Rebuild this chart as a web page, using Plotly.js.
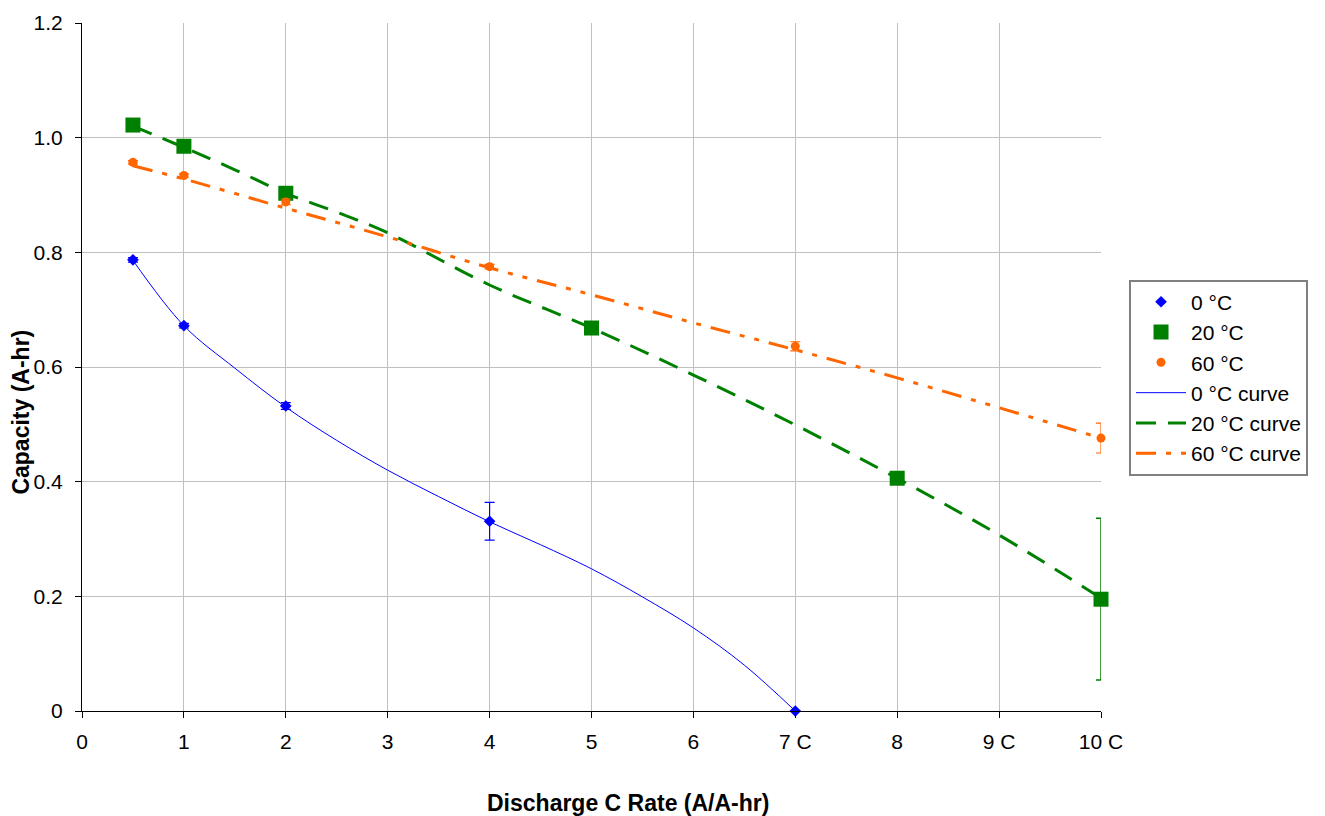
<!DOCTYPE html>
<html>
<head>
<meta charset="utf-8">
<script src="https://cdn.plot.ly/plotly-3.0.1.min.js"></script>
<style>html,body{margin:0;padding:0;background:#fff;}#chart{width:1325px;height:816px;}</style>
</head>
<body>
<div id="chart"></div>
<script>
// Measured points
const x0 = [0.5, 1, 2, 4, 7];
const y0 = [0.787, 0.672, 0.532, 0.331, 0.0];
const e0 = [0.004, 0.004, 0.006, 0.033, 0.0];

const x20 = [0.5, 1, 2, 5, 8, 10];
const y20 = [1.022, 0.985, 0.903, 0.668, 0.406, 0.195];
const e20 = [0.0, 0.0, 0.0, 0.0, 0.0, 0.141];

const x60 = [0.5, 1, 2, 4, 7, 10];
const y60 = [0.957, 0.934, 0.888, 0.775, 0.636, 0.476];
const e60 = [0.003, 0.003, 0.005, 0.004, 0.008, 0.026];

// Fitted curves
const xc0 = [0.5, 1, 1.5, 2, 2.5, 3, 3.5, 4, 4.5, 5, 5.5, 6, 6.5, 7];
const yc0 = [0.786, 0.672, 0.598, 0.530, 0.472, 0.420, 0.374, 0.330, 0.290, 0.248, 0.199, 0.145, 0.080, 0.0];

const xc20 = [0.5, 1, 1.5, 2, 2.5, 3, 4, 5, 6, 7, 8, 9, 10];
const yc20 = [1.020, 0.983, 0.944, 0.903, 0.870, 0.834, 0.743, 0.668, 0.586, 0.499, 0.406, 0.307, 0.197];

const xc60 = [0.5, 1, 2, 3, 4, 5, 6, 7, 8, 9, 10];
const yc60 = [0.951, 0.928, 0.877, 0.827, 0.773, 0.726, 0.677, 0.630, 0.581, 0.529, 0.476];

const xTickVals = [0, 1, 2, 3, 4, 5, 6, 7, 8, 9, 10];
const xTickText = ['0', '1', '2', '3', '4', '5', '6', '7 C', '8', '9 C', '10 C'];
const yTickVals = [0, 0.2, 0.4, 0.6, 0.8, 1.0, 1.2];
const yTickText = ['0', '0.2', '0.4', '0.6', '0.8', '1.0', '1.2'];

const xTitle = 'Discharge C Rate (A/A-hr)';
const yTitle = 'Capacity (A-hr)';

const BLUE = '#0000ff', GREEN = '#008000', ORANGE = '#ff6600';

const traces = [
  {x: x0, y: y0, name: '0 °C', mode: 'markers', type: 'scatter', cliponaxis: false,
   marker: {symbol: 'diamond', size: 9, color: BLUE},
   error_y: {type: 'data', array: e0, visible: true, color: BLUE, thickness: 1.2, width: 5}},
  {x: x20, y: y20, name: '20 °C', mode: 'markers', type: 'scatter', cliponaxis: false,
   marker: {symbol: 'square', size: 15, color: GREEN},
   error_y: {type: 'data', array: e20, visible: true, color: GREEN, thickness: 1.5, width: 5}},
  {x: x60, y: y60, name: '60 °C', mode: 'markers', type: 'scatter', cliponaxis: false,
   marker: {symbol: 'circle', size: 9, color: ORANGE},
   error_y: {type: 'data', array: e60, visible: true, color: ORANGE, thickness: 1.2, width: 5}},
  {x: xc0, y: yc0, name: '0 °C curve', mode: 'lines', type: 'scatter', cliponaxis: false,
   line: {color: BLUE, width: 1, shape: 'spline'}},
  {x: xc20, y: yc20, name: '20 °C curve', mode: 'lines', type: 'scatter', cliponaxis: false,
   line: {color: GREEN, width: 3, dash: '20px,12px', shape: 'spline'}},
  {x: xc60, y: yc60, name: '60 °C curve', mode: 'lines', type: 'scatter', cliponaxis: false,
   line: {color: ORANGE, width: 3, dash: '20px,10px,5px,10px,5px,10px', shape: 'spline'}}
];

const layout = {
  width: 1325, height: 816,
  paper_bgcolor: '#ffffff', plot_bgcolor: '#ffffff',
  margin: {l: 82, r: 224, t: 23, b: 105},
  font: {family: 'Liberation Sans, Arial, sans-serif', size: 21, color: '#000'},
  showlegend: true,
  legend: {x: 1.0275, y: 0.627, xanchor: 'left', yanchor: 'top',
           bordercolor: '#808080', borderwidth: 2, bgcolor: '#fff',
           font: {size: 21}, tracegroupgap: 0, itemwidth: 50},
  xaxis: {range: [0, 10], tickvals: xTickVals, ticktext: xTickText,
          showgrid: true, gridcolor: '#c0c0c0', gridwidth: 1,
          showline: true, linecolor: '#000', linewidth: 1,
          ticks: 'outside', ticklen: 6, tickcolor: '#000', zeroline: false,
          ticklabelstandoff: 6},
  yaxis: {range: [0, 1.2], tickvals: yTickVals, ticktext: yTickText,
          showgrid: true, gridcolor: '#c0c0c0', gridwidth: 1,
          showline: true, linecolor: '#000', linewidth: 1,
          ticks: 'outside', ticklen: 6, tickcolor: '#000', zeroline: false,
          ticklabelstandoff: 8},
  annotations: [
    {text: '<b>' + xTitle + '</b>', xref: 'paper', yref: 'paper', x: 0.536, y: -0.134,
     xanchor: 'center', yanchor: 'middle', showarrow: false, font: {size: 23}},
    {text: '<b>' + yTitle + '</b>', xref: 'paper', yref: 'paper', x: -0.06, y: 0.435,
     xanchor: 'center', yanchor: 'middle', showarrow: false, textangle: -90, font: {size: 23}}
  ]
};

Plotly.newPlot('chart', traces, layout, {displayModeBar: false, staticPlot: true});
</script>
</body>
</html>
